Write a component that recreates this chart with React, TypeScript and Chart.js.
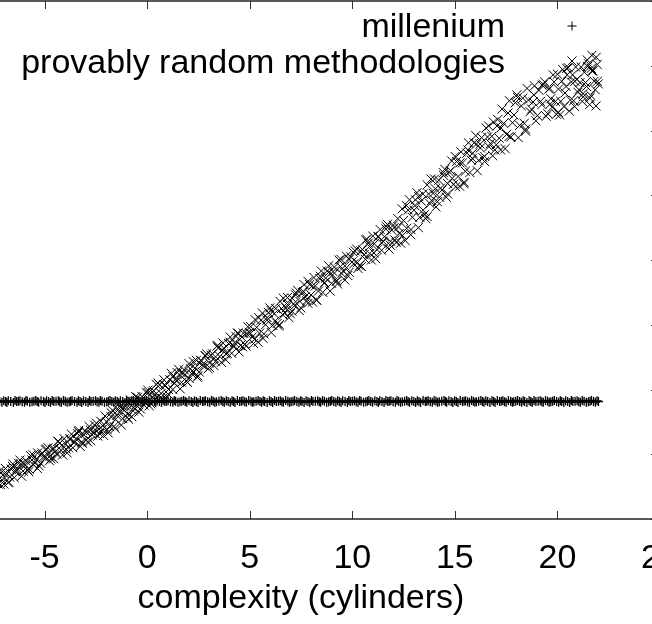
import React, { useEffect, useRef } from 'react';
import { Chart, registerables } from 'chart.js';

Chart.register(...registerables);

const FONT = '"Liberation Sans", Arial, Helvetica, sans-serif';

const seriesLabels = ['millenium', 'provably random methodologies'];
const xAxisTitle = 'complexity (cylinders)';
const xTickValues = [-10, -5, 0, 5, 10, 15, 20, 25];
const yTickValues = [-20, -10, 0, 10, 20, 30, 40, 50, 60];

// series 1: "+" marks, flat band
const milleniumPoints: [number, number][] = [
  [-10.0, -1.85], [-9.83, -1.75], [-9.64, -1.95], [-9.51, -1.8], [-9.26, -1.9], [-9.1, -1.7], [-8.93, -1.95], [-8.72, -1.85], [-8.6, -1.75], [-8.38, -2.0],
  [-8.19, -1.85], [-8.05, -1.75], [-7.81, -1.95], [-7.66, -1.8], [-7.45, -1.9], [-7.3, -1.7], [-7.08, -1.95], [-6.9, -1.85], [-6.77, -1.75], [-6.52, -2.0],
  [-6.36, -1.85], [-6.2, -1.75], [-5.98, -1.95], [-5.84, -1.8], [-5.61, -1.9], [-5.43, -1.7], [-5.29, -1.95], [-5.05, -1.85], [-4.9, -1.75], [-4.71, -2.0],
  [-4.55, -1.85], [-4.33, -1.75], [-4.18, -1.95], [-3.99, -1.8], [-3.8, -1.9], [-3.66, -1.7], [-3.42, -1.95], [-3.27, -1.85], [-3.1, -1.75], [-2.88, -2.0],
  [-2.74, -1.85], [-2.52, -1.75], [-2.35, -1.95], [-2.2, -1.8], [-1.97, -1.9], [-1.81, -1.7], [-1.63, -1.95], [-1.46, -1.85], [-1.3, -1.75], [-1.08, -2.0],
  [-0.93, -1.85], [-0.75, -1.75], [-0.56, -1.95], [-0.41, -1.8], [-0.2, -1.9], [-0.04, -1.7], [0.13, -1.95], [0.35, -1.85], [0.49, -1.75], [0.7, -2.0],
  [0.86, -1.85], [1.02, -1.75], [1.25, -1.95], [1.39, -1.8], [1.6, -1.9], [1.78, -1.7], [1.93, -1.95], [2.15, -1.85], [2.31, -1.75], [2.48, -2.0],
  [2.7, -1.85], [2.84, -1.75], [3.05, -1.95], [3.22, -1.8], [3.38, -1.9], [3.61, -1.7], [3.76, -1.95], [3.95, -1.85], [4.14, -1.75], [4.28, -2.0],
  [4.51, -1.85], [4.67, -1.75], [4.84, -1.95], [5.06, -1.8], [5.2, -1.9], [5.41, -1.7], [5.58, -1.95], [5.73, -1.85], [5.96, -1.75], [6.12, -2.0],
  [6.3, -1.85], [6.49, -1.75], [6.64, -1.95], [6.86, -1.8], [7.02, -1.9], [7.19, -1.7], [7.4, -1.95], [7.55, -1.85], [7.75, -1.75], [7.93, -2.0],
  [8.08, -1.85], [8.31, -1.75], [8.46, -1.95], [8.64, -1.8], [8.85, -1.9], [9.0, -1.7], [9.2, -1.95], [9.37, -1.85], [9.53, -1.75], [9.76, -2.0],
  [9.9, -1.85], [10.1, -1.75], [10.28, -1.95], [10.43, -1.8], [10.66, -1.9], [10.81, -1.7], [10.99, -1.95], [11.2, -1.85], [11.34, -1.75], [11.55, -2.0],
  [11.73, -1.85], [11.88, -1.75], [12.1, -1.95], [12.26, -1.8], [12.44, -1.9], [12.65, -1.7], [12.79, -1.95], [13.0, -1.85], [13.17, -1.75], [13.33, -2.0],
  [13.56, -1.85], [13.7, -1.75], [13.9, -1.95], [14.08, -1.8], [14.24, -1.9], [14.47, -1.7], [14.6, -1.95], [14.82, -1.85], [14.99, -1.75], [15.15, -2.0],
  [15.37, -1.85], [15.52, -1.75], [15.71, -1.95], [15.9, -1.8], [16.05, -1.9], [16.27, -1.7], [16.42, -1.95], [16.6, -1.85], [16.81, -1.75], [16.96, -2.0],
  [17.18, -1.85], [17.34, -1.75], [17.5, -1.95], [17.72, -1.8], [17.87, -1.9], [18.06, -1.7], [18.25, -1.95], [18.4, -1.85], [18.62, -1.75], [18.77, -2.0],
  [18.95, -1.85], [19.16, -1.75], [19.31, -1.95], [19.52, -1.8], [19.68, -1.9], [19.85, -1.7], [20.06, -1.95], [20.21, -1.85], [20.4, -1.75], [20.6, -2.0],
  [20.75, -1.85], [20.96, -1.75], [21.12, -1.95], [21.3, -1.8], [21.51, -1.9], [21.66, -1.7], [21.85, -1.95], [22.0, -1.85],
  [-9.92, -1.8], [-9.74, -1.9], [-9.58, -1.7], [-9.4, -1.95], [-9.18, -1.8], [-9.02, -1.85], [-8.83, -1.75], [-8.66, -2.0], [-8.49, -1.85], [-8.29, -1.7],
  [-8.12, -1.8], [-7.93, -1.9], [-7.74, -1.7], [-7.55, -1.95], [-7.38, -1.8], [-7.19, -1.85], [-6.99, -1.75], [-6.84, -2.0], [-6.65, -1.85], [-6.44, -1.7],
  [-6.28, -1.8], [-6.09, -1.9], [-5.91, -1.7], [-5.72, -1.95], [-5.52, -1.8], [-5.36, -1.85], [-5.17, -1.75], [-4.98, -2.0], [-4.8, -1.85], [-4.63, -1.7],
  [-4.44, -1.8], [-4.26, -1.9], [-4.08, -1.7], [-3.9, -1.95], [-3.73, -1.8], [-3.54, -1.85], [-3.35, -1.75], [-3.19, -2.0], [-2.99, -1.85], [-2.81, -1.7],
  [-2.63, -1.8], [-2.44, -1.9], [-2.28, -1.7], [-2.08, -1.95], [-1.89, -1.8], [-1.72, -1.85], [-1.55, -1.75], [-1.38, -2.0], [-1.19, -1.85], [-1.0, -1.7],
  [-0.84, -1.8], [-0.66, -1.9], [-0.49, -1.7], [-0.3, -1.95], [-0.12, -1.8], [0.05, -1.85], [0.24, -1.75], [0.42, -2.0], [0.6, -1.85], [0.78, -1.7],
  [0.94, -1.8], [1.14, -1.9], [1.32, -1.7], [1.5, -1.95], [1.69, -1.8], [1.86, -1.85], [2.04, -1.75], [2.23, -2.0], [2.4, -1.85], [2.59, -1.7],
  [2.77, -1.8], [2.95, -1.9], [3.14, -1.7], [3.3, -1.95], [3.5, -1.8], [3.69, -1.85], [3.86, -1.75], [4.05, -2.0], [4.21, -1.85], [4.4, -1.7],
  [4.59, -1.8], [4.76, -1.9], [4.95, -1.7], [5.13, -1.95], [5.31, -1.8], [5.5, -1.85], [5.66, -1.75], [5.85, -2.0], [6.04, -1.85], [6.21, -1.7],
  [6.4, -1.8], [6.57, -1.9], [6.75, -1.7], [6.94, -1.95], [7.11, -1.8], [7.3, -1.85], [7.48, -1.75], [7.65, -2.0], [7.84, -1.85], [8.01, -1.7],
  [8.2, -1.8], [8.39, -1.9], [8.55, -1.7], [8.75, -1.95], [8.93, -1.8], [9.1, -1.85], [9.29, -1.75], [9.45, -2.0], [9.65, -1.85], [9.83, -1.7],
  [10.0, -1.8], [10.19, -1.9], [10.36, -1.7], [10.55, -1.95], [10.74, -1.8], [10.9, -1.85], [11.1, -1.75], [11.27, -2.0], [11.45, -1.85], [11.64, -1.7],
  [11.8, -1.8], [11.99, -1.9], [12.18, -1.7], [12.35, -1.95], [12.55, -1.8], [12.72, -1.85], [12.9, -1.75], [13.09, -2.0], [13.25, -1.85], [13.45, -1.7],
  [13.63, -1.8], [13.8, -1.9], [13.99, -1.7], [14.16, -1.95], [14.36, -1.8], [14.54, -1.85], [14.71, -1.75], [14.9, -2.0], [15.07, -1.85], [15.26, -1.7],
  [15.45, -1.8], [15.62, -1.9], [15.81, -1.7], [15.98, -1.95], [16.16, -1.8], [16.35, -1.85], [16.51, -1.75], [16.71, -2.0], [16.89, -1.85], [17.07, -1.7],
  [17.26, -1.8], [17.42, -1.9], [17.61, -1.7], [17.8, -1.95], [17.97, -1.8], [18.16, -1.85], [18.33, -1.75], [18.51, -2.0], [18.7, -1.85], [18.86, -1.7],
  [19.06, -1.8], [19.24, -1.9], [19.42, -1.7], [19.6, -1.95], [19.77, -1.8], [19.96, -1.85], [20.14, -1.75], [20.31, -2.0], [20.5, -1.85], [20.68, -1.7],
  [20.86, -1.8], [21.04, -1.9], [21.21, -1.7], [21.41, -1.95], [21.59, -1.8], [21.76, -1.85], [21.93, -1.75],
];

// series 2: "x" marks, rising band
const methodologiesPoints: [number, number][] = [
  [-10.0, -17.5], [-9.86, -19.2], [-9.7, -17.6], [-9.57, -18.1], [-9.42, -16.1], [-9.28, -17.3], [-9.13, -16.0], [-8.99, -18.0], [-8.85, -16.1], [-8.7, -17.0],
  [-8.56, -14.8], [-8.41, -16.1], [-8.28, -15.4], [-8.13, -16.3], [-7.99, -14.4], [-7.84, -15.1], [-7.7, -13.6], [-7.56, -15.3], [-7.41, -13.6], [-7.27, -14.6],
  [-7.13, -12.9], [-6.98, -14.6], [-6.84, -13.0], [-6.7, -13.5], [-6.55, -11.5], [-6.41, -12.7], [-6.27, -11.4], [-6.12, -13.4], [-5.98, -11.5], [-5.84, -12.4],
  [-5.69, -10.2], [-5.55, -11.6], [-5.41, -10.8], [-5.26, -11.8], [-5.12, -9.8], [-4.98, -10.5], [-4.83, -9.0], [-4.69, -10.7], [-4.55, -9.1], [-4.4, -10.0],
  [-4.26, -8.3], [-4.12, -10.1], [-3.97, -8.4], [-3.83, -9.0], [-3.69, -6.9], [-3.54, -8.1], [-3.4, -6.8], [-3.26, -8.8], [-3.11, -6.9], [-2.97, -7.8],
  [-2.83, -5.7], [-2.68, -7.0], [-2.54, -6.2], [-2.4, -7.2],
  [-2.26, -4.9], [-2.12, -7.1], [-1.97, -5.0], [-1.83, -5.7], [-1.69, -3.2], [-1.54, -4.6], [-1.4, -3.1], [-1.26, -5.5], [-1.11, -3.2], [-0.97, -4.3],
  [-0.83, -1.6], [-0.68, -3.3], [-0.54, -2.4], [-0.4, -3.5], [-0.25, -1.1], [-0.11, -2.0], [0.03, -0.1], [0.18, -2.2], [0.32, -0.2], [0.46, -1.3],
  [0.61, 0.7], [0.75, -1.4], [0.89, 0.6], [1.04, 0.0], [1.18, 2.5], [1.32, 1.0], [1.47, 2.6], [1.61, 0.1], [1.75, 2.5], [1.9, 1.3],
  [2.04, 4.0], [2.18, 2.4], [2.33, 3.3], [2.47, 2.1], [2.61, 4.5], [2.76, 3.7], [2.9, 5.5], [3.04, 3.4], [3.19, 5.5], [3.33, 4.3],
  [3.47, 6.4], [3.62, 4.2], [3.76, 6.3], [3.9, 5.6], [4.05, 8.1], [4.19, 6.7], [4.33, 8.2], [4.48, 5.8], [4.62, 8.1], [4.76, 7.0], [4.91, 9.7],
  [5.05, 9.7], [5.19, 7.1], [5.34, 9.6], [5.48, 8.7], [5.62, 11.8], [5.77, 10.0], [5.91, 11.9], [6.05, 8.8], [6.2, 11.7], [6.34, 10.2],
  [6.48, 13.6], [6.63, 11.5], [6.77, 12.6], [6.91, 11.1], [7.06, 14.1], [7.2, 13.0], [7.34, 15.3], [7.49, 12.6], [7.63, 15.1], [7.77, 13.7],
  [7.92, 16.2], [8.06, 13.5], [8.2, 16.0], [8.35, 15.2], [8.49, 18.3], [8.63, 16.4], [8.78, 18.3], [8.92, 15.2], [9.06, 18.2], [9.21, 16.7],
  [9.35, 20.0], [9.49, 17.9], [9.64, 19.1], [9.78, 17.6], [9.92, 20.5], [10.07, 19.4], [10.21, 21.7], [10.35, 19.1], [10.5, 21.6], [10.64, 20.1],
  [10.78, 22.6], [10.93, 20.0], [11.07, 22.5], [11.21, 21.6], [11.36, 24.7], [11.5, 22.9], [11.64, 24.8], [11.79, 21.7], [11.93, 24.6], [12.07, 23.1],
  [12.22, 26.4], [12.36, 22.6], [12.5, 26.1], [12.65, 24.9], [12.79, 29.3], [12.93, 26.6], [13.08, 29.3], [13.22, 25.0], [13.36, 29.1], [13.51, 27.0],
  [13.65, 31.6], [13.79, 28.7], [13.94, 30.3], [14.08, 28.2], [14.22, 32.3], [14.37, 30.8], [14.51, 34.0], [14.65, 30.2], [14.8, 33.8], [14.94, 31.7],
  [15.08, 35.2], [15.23, 31.4], [15.37, 35.0], [15.51, 33.7], [15.66, 38.1], [15.8, 35.4], [15.94, 38.1], [16.09, 33.8], [16.23, 37.9], [16.37, 35.8],
  [16.52, 40.4], [16.66, 37.5], [16.8, 39.1], [16.95, 37.0],
  [17.09, 41.7], [17.23, 37.0], [17.38, 41.1], [17.52, 39.4], [17.66, 44.6], [17.81, 41.2], [17.95, 44.3], [18.09, 38.9], [18.24, 43.8], [18.38, 41.1],
  [18.52, 46.5], [18.67, 42.9], [18.81, 44.4], [18.95, 41.5], [19.1, 46.2], [19.24, 44.0], [19.38, 47.5], [19.53, 42.6], [19.63, 46.5], [19.74, 43.6],
  [19.84, 47.5], [19.95, 42.5], [20.05, 46.4], [20.16, 44.5], [20.26, 49.4], [20.37, 45.8], [20.47, 48.6], [20.58, 43.0], [20.68, 47.5], [20.79, 44.6],
  [20.89, 49.8], [21.0, 45.9], [21.1, 47.4], [21.21, 44.5], [21.31, 49.0], [21.42, 46.8], [21.52, 50.3], [21.63, 45.4], [21.73, 49.2], [21.84, 46.3],
  [21.94, 50.2], [21.68, 51.6], [21.45, 50.9], [21.88, 43.8], [21.57, 44.0],
  [-9.93, -18.6], [-9.79, -16.8], [-9.64, -19.0], [-9.5, -16.9], [-9.35, -18.2], [-9.21, -16.8], [-9.06, -15.5], [-8.92, -17.2], [-8.78, -15.6], [-8.63, -17.3],
  [-8.49, -15.5], [-8.35, -15.9], [-8.2, -14.4], [-8.06, -16.0], [-7.92, -15.0], [-7.77, -13.8], [-7.63, -15.6], [-7.49, -13.8], [-7.34, -14.2], [-7.2, -12.6],
  [-7.06, -14.0], [-6.91, -12.2], [-6.77, -14.4], [-6.63, -12.3], [-6.48, -13.6], [-6.34, -12.2], [-6.2, -10.9], [-6.05, -12.6], [-5.91, -11.0], [-5.77, -12.7],
  [-5.62, -10.9], [-5.48, -11.3], [-5.34, -9.8], [-5.19, -11.4], [-5.05, -10.4], [-4.91, -9.2], [-4.76, -11.0], [-4.62, -9.2], [-4.48, -9.6], [-4.33, -8.0],
  [-4.19, -9.4], [-4.05, -7.6], [-3.9, -9.8], [-3.76, -7.7], [-3.62, -9.0], [-3.47, -7.6], [-3.33, -6.3], [-3.19, -8.1], [-3.04, -6.4], [-2.9, -8.1],
  [-2.76, -6.3], [-2.61, -6.7], [-2.47, -5.2], [-2.33, -6.8],
  [-2.19, -6.2], [-2.05, -4.1], [-1.9, -6.7], [-1.76, -4.2], [-1.62, -5.7], [-1.47, -4.0], [-1.33, -2.6], [-1.19, -4.5], [-1.04, -2.6], [-0.9, -4.6],
  [-0.76, -2.5], [-0.61, -3.0], [-0.47, -1.2], [-0.33, -3.0], [-0.18, -1.8], [-0.04, -0.5], [0.1, -2.5], [0.25, -0.4], [0.39, -0.8], [0.53, 1.0],
  [0.68, -0.6], [0.82, 1.5], [0.96, -1.1], [1.11, 1.5], [1.25, 0.0], [1.39, 1.6], [1.54, 3.1], [1.68, 1.1], [1.82, 3.0], [1.97, 1.1],
  [2.11, 3.2], [2.25, 2.7], [2.4, 4.5], [2.54, 2.7], [2.68, 3.8], [2.83, 5.2], [2.97, 3.2], [3.11, 5.3], [3.26, 4.8], [3.4, 6.7],
  [3.54, 5.1], [3.69, 7.2], [3.83, 4.6], [3.97, 7.1], [4.12, 5.6], [4.26, 7.2], [4.4, 8.7], [4.55, 6.8], [4.69, 8.7], [4.83, 6.7], [4.98, 8.8],
  [5.12, 8.1], [5.26, 10.8], [5.41, 7.3], [5.55, 10.7], [5.69, 8.6], [5.84, 10.7], [5.98, 12.6], [6.12, 9.9], [6.27, 12.5], [6.41, 9.8],
  [6.55, 12.5], [6.7, 11.9], [6.84, 14.2], [6.98, 11.7], [7.13, 13.2], [7.27, 14.9], [7.41, 12.2], [7.56, 15.0], [7.7, 14.3], [7.84, 16.7],
  [7.99, 14.6], [8.13, 17.3], [8.27, 13.8], [8.42, 17.1], [8.56, 15.0], [8.7, 17.2], [8.85, 19.1], [8.99, 16.4], [9.13, 18.9], [9.28, 16.3],
  [9.42, 19.0], [9.56, 18.3], [9.71, 20.6], [9.85, 18.1], [9.99, 19.7], [10.14, 21.4], [10.28, 18.7], [10.42, 21.4], [10.57, 20.8], [10.71, 23.2],
  [10.85, 21.0], [11.0, 23.7], [11.14, 20.2], [11.28, 23.6], [11.43, 21.5], [11.57, 23.6], [11.71, 25.5], [11.86, 22.9], [12.0, 25.4], [12.14, 22.7],
  [12.29, 24.1], [12.43, 27.9], [12.58, 23.0], [12.72, 27.7], [12.86, 24.7], [13.01, 27.7], [13.15, 30.4], [13.29, 26.6], [13.44, 30.2], [13.58, 26.4],
  [13.72, 30.2], [13.87, 29.2], [14.01, 32.5], [14.15, 29.0], [14.3, 31.1], [14.44, 33.5], [14.58, 29.7], [14.73, 33.6], [14.87, 32.6], [15.01, 36.0],
  [15.16, 32.9], [15.3, 36.7], [15.44, 31.8], [15.59, 36.5], [15.73, 33.5], [15.87, 36.5], [16.02, 39.2], [16.16, 35.4], [16.3, 38.9], [16.45, 35.2],
  [16.59, 39.0], [16.73, 38.0], [16.88, 41.3], [17.02, 37.8],
  [17.16, 38.8], [17.3, 43.3], [17.45, 37.2], [17.59, 42.7], [17.73, 39.0], [17.88, 42.4], [18.02, 45.5], [18.16, 40.8], [18.31, 45.0], [18.45, 40.2],
  [18.59, 44.7], [18.74, 43.3], [18.88, 46.9], [19.02, 42.3], [19.17, 44.5], [19.31, 47.1], [19.45, 42.2], [19.58, 46.4], [19.68, 44.9], [19.79, 48.6],
  [19.9, 44.5], [20.0, 48.7], [20.11, 42.4], [20.21, 47.6], [20.32, 43.7], [20.42, 46.8], [20.53, 49.7], [20.63, 44.7], [20.74, 48.6], [20.84, 43.7],
  [20.95, 47.9], [21.05, 46.3], [21.16, 49.8], [21.26, 45.2], [21.37, 47.4], [21.47, 49.9], [21.58, 45.0], [21.68, 49.2], [21.79, 47.6], [21.89, 51.3],
  [21.99, 47.2],
  [-9.96, -18.1], [-9.76, -18.7], [-9.55, -16.5], [-9.36, -18.6], [-9.16, -16.4], [-8.95, -15.7], [-8.76, -16.7], [-8.55, -17.1], [-8.36, -14.4], [-8.15, -15.0],
  [-7.95, -15.6], [-7.76, -14.0], [-7.55, -14.6], [-7.35, -12.9], [-7.15, -14.7], [-6.96, -13.0], [-6.75, -14.3], [-6.56, -11.9], [-6.35, -12.5], [-6.16, -11.5],
  [-5.95, -11.7], [-5.75, -12.3], [-5.56, -10.1], [-5.35, -12.2], [-5.15, -10.0], [-4.96, -9.3], [-4.75, -10.3], [-4.56, -10.7], [-4.35, -8.0], [-4.15, -8.6],
  [-3.95, -9.2], [-3.76, -7.6], [-3.55, -8.2], [-3.35, -6.5], [-3.16, -8.3], [-2.95, -6.6], [-2.75, -7.9], [-2.56, -5.5], [-2.35, -6.1],
  [-2.16, -5.6], [-1.95, -6.2], [-1.75, -3.6], [-1.56, -6.0], [-1.35, -3.5], [-1.16, -2.7], [-0.95, -3.8], [-0.75, -4.2], [-0.56, -1.1], [-0.35, -1.8],
  [-0.16, -2.4], [0.05, -0.5], [0.25, -1.2], [0.44, 0.8], [0.65, -1.3], [0.84, 0.7], [1.05, -0.8], [1.25, 2.0], [1.44, 1.3], [1.65, 2.6],
  [1.84, 2.3], [2.05, 1.7], [2.25, 4.3], [2.44, 1.9], [2.65, 4.4], [2.85, 5.2], [3.04, 4.1], [3.25, 3.7], [3.44, 6.8], [3.65, 6.1],
  [3.85, 5.5], [4.04, 7.3], [4.25, 6.7], [4.44, 8.7], [4.65, 6.6], [4.85, 8.6],
  [5.04, 8.7], [5.25, 7.8], [5.44, 11.1], [5.65, 7.9], [5.85, 11.1], [6.04, 12.2], [6.25, 10.6], [6.45, 10.0], [6.64, 14.1], [6.85, 13.1],
  [7.05, 12.1], [7.24, 14.6], [7.45, 13.6], [7.65, 16.2], [7.84, 13.3], [8.05, 16.0], [8.25, 13.8], [8.44, 17.5], [8.65, 16.5], [8.85, 18.1],
  [9.04, 17.7], [9.25, 16.8], [9.45, 20.1], [9.64, 16.9], [9.85, 20.1], [10.05, 21.2], [10.24, 19.6], [10.45, 19.0], [10.65, 23.1], [10.84, 22.1],
  [11.05, 21.1], [11.25, 23.6], [11.44, 22.6], [11.65, 25.2], [11.85, 22.3], [12.04, 25.0],
  [12.25, 25.1], [12.45, 23.8], [12.64, 28.4], [12.85, 23.9], [13.05, 28.4], [13.24, 29.8], [13.45, 27.7], [13.65, 26.7], [13.84, 32.5], [14.05, 31.0],
  [14.25, 29.7], [14.44, 33.1], [14.65, 31.8], [14.85, 35.3], [15.04, 31.3], [15.25, 35.0], [15.45, 32.0], [15.64, 37.0], [15.85, 35.7], [16.05, 37.9],
  [16.24, 37.3], [16.45, 36.0], [16.65, 40.7], [16.84, 36.1], [17.05, 40.7],
  [17.25, 40.4], [17.65, 39.1], [18.05, 45.1], [18.45, 39.9], [18.85, 45.5], [19.25, 47.0], [19.65, 44.1], [20.05, 42.8], [20.45, 49.6], [20.85, 47.6],
  [21.25, 45.7], [21.65, 49.6], [21.95, 47.6],
];

const framePlugin = {
  id: 'gnuplotFrame',
  afterDatasetsDraw(chart: any) {
    const { ctx, chartArea: a, scales } = chart;
    const xs = scales.x;
    const ys = scales.y;
    ctx.save();
    // inward tick marks on all four sides
    ctx.strokeStyle = '#333';
    ctx.lineWidth = 1;
    ctx.beginPath();
    xs.ticks.forEach((t: any) => {
      const p = Math.round(xs.getPixelForValue(t.value)) + 0.5;
      ctx.moveTo(p, a.bottom);
      ctx.lineTo(p, a.bottom - 8);
      ctx.moveTo(p, a.top);
      ctx.lineTo(p, a.top + 8);
    });
    ys.ticks.forEach((t: any) => {
      const p = Math.round(ys.getPixelForValue(t.value)) + 0.5;
      ctx.moveTo(a.left, p);
      ctx.lineTo(a.left + 9, p);
      ctx.moveTo(a.right, p);
      ctx.lineTo(a.right - 9, p);
    });
    ctx.stroke();
    // border
    ctx.strokeStyle = '#222';
    ctx.lineWidth = 1.5;
    ctx.strokeRect(a.left, a.top, a.right - a.left, a.bottom - a.top);
    // key (top right, text right-aligned, sample to the right)
    const textRight = a.right - 155;
    const sampleX = a.right - 88;
    ctx.fillStyle = '#000';
    ctx.font = `34px ${FONT}`;
    ctx.textAlign = 'right';
    ctx.textBaseline = 'alphabetic';
    chart.data.datasets.forEach((ds: any, i: number) => {
      const baseY = a.top + 36 + i * 36;
      const cy = a.top + 25 + i * 35;
      ctx.fillText(ds.label, textRight, baseY);
      ctx.strokeStyle = '#000';
      ctx.lineWidth = 1;
      ctx.beginPath();
      if (ds.pointStyle === 'cross') {
        ctx.moveTo(sampleX - 4.5, cy);
        ctx.lineTo(sampleX + 4.5, cy);
        ctx.moveTo(sampleX, cy - 4.5);
        ctx.lineTo(sampleX, cy + 4.5);
      } else {
        ctx.moveTo(sampleX - 4.5, cy - 4.5);
        ctx.lineTo(sampleX + 4.5, cy + 4.5);
        ctx.moveTo(sampleX - 4.5, cy + 4.5);
        ctx.lineTo(sampleX + 4.5, cy - 4.5);
      }
      ctx.stroke();
    });
    ctx.restore();
  },
};

export default function App() {
  const canvasRef = useRef<HTMLCanvasElement | null>(null);

  useEffect(() => {
    const canvas = canvasRef.current;
    if (!canvas) return;
    const chart = new Chart(canvas, {
      type: 'scatter',
      data: {
        datasets: [
          {
            label: seriesLabels[0],
            data: milleniumPoints.map(([x, y]) => ({ x, y })),
            pointStyle: 'cross',
            pointRadius: 4.5,
            pointHoverRadius: 4.5,
            borderColor: '#000',
            backgroundColor: '#000',
            borderWidth: 1.3,
            showLine: false,
          },
          {
            label: seriesLabels[1],
            data: methodologiesPoints.map(([x, y]) => ({ x, y })),
            pointStyle: 'crossRot',
            pointRadius: 6.4,
            pointHoverRadius: 6.4,
            borderColor: '#000',
            backgroundColor: '#000',
            borderWidth: 1,
            showLine: false,
          },
        ],
      },
      options: {
        responsive: false,
        animation: false,
        events: [],
        layout: { padding: { top: 21, right: 24, left: 0, bottom: 0 } },
        plugins: { legend: { display: false }, tooltip: { enabled: false } },
        scales: {
          x: {
            type: 'linear',
            position: 'bottom',
            min: -10,
            max: 25,
            afterBuildTicks: (s: any) => {
              s.ticks = xTickValues.map((v) => ({ value: v }));
            },
            afterFit: (s: any) => {
              s.height = 110;
            },
            grid: { display: false, drawTicks: true, tickLength: 19 },
            border: { display: false },
            ticks: {
              font: { family: FONT, size: 34 },
              color: '#000',
              padding: 0,
              maxRotation: 0,
              autoSkip: false,
            },
            title: {
              display: true,
              text: xAxisTitle,
              font: { family: FONT, size: 34 },
              color: '#000',
              padding: { top: 0, bottom: 10 },
            },
          },
          y: {
            type: 'linear',
            position: 'left',
            min: -20,
            max: 60,
            afterBuildTicks: (s: any) => {
              s.ticks = yTickValues.map((v) => ({ value: v }));
            },
            afterFit: (s: any) => {
              s.width = 80;
            },
            grid: { display: false, drawTicks: false },
            border: { display: false },
            ticks: {
              font: { family: FONT, size: 32 },
              color: '#000',
              padding: 0,
              autoSkip: false,
            },
          },
        },
      },
      plugins: [framePlugin],
    } as any);
    return () => chart.destroy();
  }, []);

  return (
    <div
      style={{
        position: 'fixed',
        left: 0,
        top: 0,
        width: 652,
        height: 624,
        overflow: 'hidden',
        background: '#fff',
      }}
    >
      <canvas
        ref={canvasRef}
        width={822}
        height={649}
        style={{ position: 'absolute', left: -138, top: -20, width: 822, height: 649 }}
      />
    </div>
  );
}
